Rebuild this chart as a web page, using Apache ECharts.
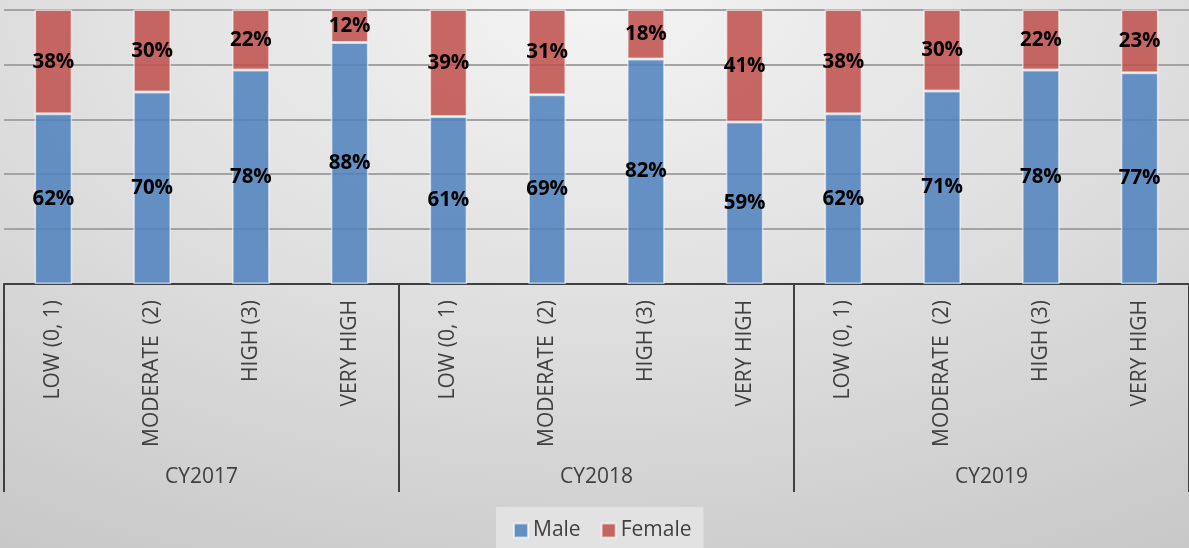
<!DOCTYPE html>
<html>
<head>
<meta charset="utf-8">
<script src="https://cdn.jsdelivr.net/npm/echarts@6/dist/echarts.min.js"></script>
<style>
  html, body { margin: 0; padding: 0; }
  #chart {
    width: 1189px; height: 548px;
    background: radial-gradient(ellipse 95% 120% at 50% 0%, #f4f4f4 0%, #dcdcdc 55%, #c7c7c7 100%);
  }
</style>
</head>
<body>
<div id="chart"></div>
<script>
// Risk level categories, repeated for each calendar year
const categories = [
  'LOW (0, 1)', 'MODERATE  (2)', 'HIGH (3)', 'VERY HIGH',
  'LOW (0, 1)', 'MODERATE  (2)', 'HIGH (3)', 'VERY HIGH',
  'LOW (0, 1)', 'MODERATE  (2)', 'HIGH (3)', 'VERY HIGH'
];
const years = ['CY2017', 'CY2018', 'CY2019'];

// Share of each group (percent), as labelled
const male   = [62, 70, 78, 88, 61, 69, 82, 59, 62, 71, 78, 77];
const female = [38, 30, 22, 12, 39, 31, 18, 41, 38, 30, 22, 23];

// 100% stacking: each column is scaled to its own total
const totals = male.map((m, i) => m + female[i]);
const maleShare = male.map((m, i) => m / totals[i] * 100);
const femaleShare = female.map((f, i) => f / totals[i] * 100);

const chart = echarts.init(document.getElementById('chart'), null, { renderer: 'canvas' });

const labelStyle = (raw) => ({
  show: true,
  position: 'inside',
  formatter: (p) => raw[p.dataIndex] + '%',
  color: '#000',
  fontFamily: 'Open Sans',
  fontWeight: 'bold',
  fontSize: 20.5
});

chart.setOption({
  backgroundColor: 'transparent',
  animation: false,
  textStyle: { fontFamily: 'Open Sans' },
  grid: { left: 4, top: 9.6, width: 1188, height: 274.4, containLabel: false },
  legend: {
    data: ['Male', 'Female'],
    top: 507,
    left: 496,
    backgroundColor: '#e2e2e2',
    padding: [13, 12, 12, 17],
    icon: 'rect',
    itemWidth: 14,
    itemHeight: 14,
    itemGap: 20,
    textStyle: { fontSize: 21, color: '#404040', fontFamily: 'Open Sans' }
  },
  xAxis: [
    {
      type: 'category',
      data: categories,
      position: 'bottom',
      axisLine: { lineStyle: { color: '#404040', width: 2 } },
      axisTick: { show: false },
      axisLabel: {
        interval: 0,
        rotate: 90,
        margin: 16,
        fontSize: 21,
        color: '#404040',
        fontFamily: 'Open Sans'
      }
    },
    {
      type: 'category',
      data: years,
      position: 'bottom',
      axisLine: { show: false },
      axisTick: {
        show: true,
        length: 208,
        lineStyle: { color: '#404040', width: 2 }
      },
      axisLabel: {
        interval: 0,
        margin: 183,
        fontSize: 21,
        color: '#404040',
        fontFamily: 'Open Sans'
      }
    }
  ],
  yAxis: {
    type: 'value',
    min: 0,
    max: 100,
    interval: 20,
    axisLabel: { show: false },
    axisLine: { show: false },
    axisTick: { show: false },
    splitLine: { lineStyle: { color: '#a3a3a3', width: 2 } }
  },
  series: [
    {
      name: 'Male',
      type: 'bar',
      stack: 'share',
      xAxisIndex: 0,
      barWidth: '38%',
      data: maleShare,
      itemStyle: {
        color: 'rgba(79,129,189,0.86)',
        borderColor: 'rgba(255,255,255,0.6)',
        borderWidth: 1.5
      },
      label: labelStyle(male)
    },
    {
      name: 'Female',
      type: 'bar',
      stack: 'share',
      xAxisIndex: 0,
      barWidth: '38%',
      data: femaleShare,
      itemStyle: {
        color: 'rgba(192,80,77,0.86)',
        borderColor: 'rgba(255,255,255,0.6)',
        borderWidth: 1.5
      },
      label: labelStyle(female)
    }
  ]
});
</script>
</body>
</html>
